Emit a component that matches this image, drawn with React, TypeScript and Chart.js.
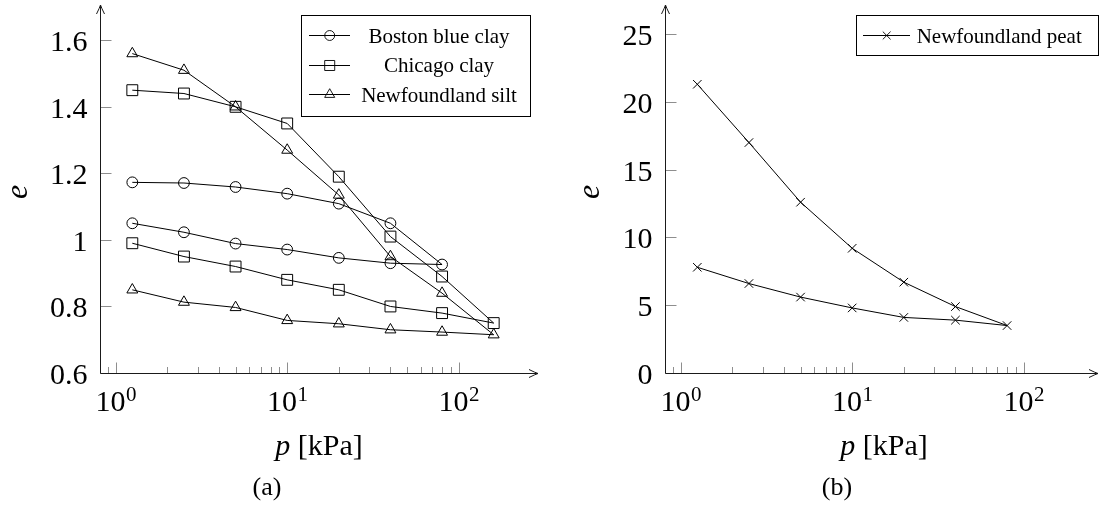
import React, { useEffect, useRef } from 'react';
import { Chart, registerables } from 'chart.js';
import { drawPoint } from 'chart.js/helpers';

Chart.register(...registerables);

// ---------------- data ----------------
const loadPressures = [1.25, 2.5, 5, 10, 20, 40, 80, 160]; // kPa
const bostonLoading = [1.173, 1.171, 1.159, 1.139, 1.109, 1.05, 0.926];
const bostonUnloading = [0.93, 0.946, 0.971, 0.989, 1.023, 1.05];
const chicagoLoading = [1.45, 1.44, 1.4, 1.35, 1.19, 1.01, 0.89, 0.75];
const chicagoUnloading = [0.78, 0.8, 0.85, 0.88, 0.92, 0.95, 0.99];
const siltLoading = [1.56, 1.51, 1.4, 1.27, 1.135, 0.95, 0.84, 0.715];
const siltUnloading = [0.723, 0.73, 0.748, 0.758, 0.797, 0.813, 0.85];
const peatLoading = [21.3, 17.0, 12.6, 9.2, 6.7, 4.9, 3.5];
const peatUnloading = [3.9, 4.1, 4.8, 5.6, 6.6, 7.8];

const leftSeriesNames = ['Boston blue clay', 'Chicago clay', 'Newfoundland silt'];
const rightSeriesNames = ['Newfoundland peat'];

const xMajorTicks = [1, 10, 100];
const xMajorExponents = ['0', '1', '2'];
const xMinorTicks = [0.9, 2, 3, 4, 5, 6, 7, 8, 9, 20, 30, 40, 50, 60, 70, 80, 90];
const leftYTicks = [0.6, 0.8, 1, 1.2, 1.4, 1.6];
const leftYTickLabels = ['0.6', '0.8', '1', '1.2', '1.4', '1.6'];
const rightYTicks = [0, 5, 10, 15, 20, 25];
const rightYTickLabels = ['0', '5', '10', '15', '20', '25'];

// loading path out, then unloading back
function cyclePath(loading: number[], unloading: number[]) {
  const pts = loading.map((e, i) => ({ x: loadPressures[i], y: e }));
  const n = loading.length;
  unloading.forEach((e, j) => pts.push({ x: loadPressures[n - 2 - j], y: e }));
  return pts;
}

const FONT = "'Liberation Serif', 'Times New Roman', serif";
const TICK_GRAY = '#8e8e8e';

const pgfPlugin = {
  id: 'pgf',
  beforeDatasetsDraw(chart: any, _args: any, o: any) {
    const { ctx, chartArea: a } = chart;
    const x = chart.scales.x;
    const y = chart.scales.y;
    const ax = Math.round(a.left) + 0.5;
    const ay = Math.round(a.bottom) + 0.5;
    ctx.save();
    // ticks (inward)
    ctx.strokeStyle = TICK_GRAY;
    ctx.lineWidth = 1;
    ctx.beginPath();
    for (const v of o.yTicks) {
      const py = Math.round(y.getPixelForValue(v)) + 0.5;
      ctx.moveTo(ax, py);
      ctx.lineTo(ax + 11, py);
    }
    for (const v of xMajorTicks) {
      const px = Math.round(x.getPixelForValue(v)) + 0.5;
      ctx.moveTo(px, ay);
      ctx.lineTo(px, ay - 11);
    }
    for (const v of xMinorTicks) {
      const px = Math.round(x.getPixelForValue(v)) + 0.5;
      ctx.moveTo(px, ay);
      ctx.lineTo(px, ay - 6.5);
    }
    ctx.stroke();

    // axis lines with arrows
    const xEnd = Math.min(a.left + o.axisLength, chart.width - 1);
    const yTop = a.top - 2;
    ctx.strokeStyle = '#1a1a1a';
    ctx.lineWidth = 1;
    ctx.beginPath();
    ctx.moveTo(ax, ay);
    ctx.lineTo(ax, yTop);
    ctx.moveTo(ax, ay);
    ctx.lineTo(xEnd, ay);
    // arrow heads
    ctx.moveTo(ax - 4, yTop + 9);
    ctx.quadraticCurveTo(ax - 1, yTop + 3, ax, yTop);
    ctx.quadraticCurveTo(ax + 1, yTop + 3, ax + 4, yTop + 9);
    ctx.moveTo(xEnd - 9, ay - 4);
    ctx.quadraticCurveTo(xEnd - 3, ay - 1, xEnd, ay);
    ctx.quadraticCurveTo(xEnd - 3, ay + 1, xEnd - 9, ay + 4);
    ctx.stroke();

    // tick labels
    ctx.fillStyle = '#000';
    ctx.font = `30px ${FONT}`;
    ctx.textAlign = 'right';
    ctx.textBaseline = 'alphabetic';
    o.yTicks.forEach((v: number, i: number) => {
      const py = y.getPixelForValue(v);
      ctx.fillText(o.yTickLabels[i], a.left - 12.5, py + 11);
    });
    xMajorTicks.forEach((v, i) => {
      const px = x.getPixelForValue(v);
      ctx.font = `30px ${FONT}`;
      const w1 = ctx.measureText('10').width;
      ctx.font = `21px ${FONT}`;
      const w2 = ctx.measureText(xMajorExponents[i]).width;
      const start = px - (w1 + w2) / 2;
      ctx.textAlign = 'left';
      ctx.font = `30px ${FONT}`;
      ctx.fillText('10', start, a.bottom + 38);
      ctx.font = `21px ${FONT}`;
      ctx.fillText(xMajorExponents[i], start + w1 + 0.5, a.bottom + 27.5);
    });

    // x axis label: italic p + [kPa]
    ctx.font = `italic 30px ${FONT}`;
    const wp = ctx.measureText('p').width;
    ctx.font = `30px ${FONT}`;
    const wr = ctx.measureText(' [kPa]').width;
    const cx = a.left + o.axisLength / 2;
    const st = cx - (wp + wr) / 2;
    ctx.textAlign = 'left';
    ctx.font = `italic 30px ${FONT}`;
    ctx.fillText('p', st, a.bottom + 82);
    ctx.font = `30px ${FONT}`;
    ctx.fillText(' [kPa]', st + wp, a.bottom + 82);

    // y axis label
    ctx.save();
    ctx.translate(o.yLabelX, (a.top + a.bottom) / 2 + 2);
    ctx.rotate(-Math.PI / 2);
    ctx.font = `italic 32px ${FONT}`;
    ctx.textAlign = 'center';
    ctx.fillText('e', 0, 0);
    ctx.restore();

    // caption
    ctx.font = `26px ${FONT}`;
    ctx.textAlign = 'center';
    ctx.fillText(o.caption, o.captionX, 495);
    ctx.restore();
  },
  afterDatasetsDraw(chart: any, _args: any, o: any) {
    const { ctx } = chart;
    const lg = o.legend;
    ctx.save();
    ctx.fillStyle = '#fff';
    ctx.fillRect(lg.box[0], lg.box[1], lg.box[2] - lg.box[0], lg.box[3] - lg.box[1]);
    ctx.strokeStyle = '#000';
    ctx.lineWidth = 1;
    ctx.strokeRect(lg.box[0] + 0.5, lg.box[1] + 0.5, lg.box[2] - lg.box[0], lg.box[3] - lg.box[1]);
    const items = chart.data.datasets.filter((d: any) => !d.hideInLegend);
    items.forEach((d: any, i: number) => {
      const ry = lg.rows[i];
      ctx.strokeStyle = '#000';
      ctx.lineWidth = 1;
      ctx.beginPath();
      ctx.moveTo(lg.line[0], Math.round(ry) + 0.5);
      ctx.lineTo(lg.line[1], Math.round(ry) + 0.5);
      ctx.stroke();
      ctx.fillStyle = 'rgba(0,0,0,0)';
      ctx.lineWidth = 0.9;
      drawPoint(ctx, { pointStyle: d.pointStyle, radius: d.pointRadius * 0.92, rotation: 0, borderWidth: 0.9 } as any, lg.marker, Math.round(ry) + 0.5);
      ctx.fillStyle = '#000';
      ctx.font = `21px ${FONT}`;
      ctx.textAlign = lg.textAlign;
      ctx.textBaseline = 'alphabetic';
      ctx.fillText(d.label, lg.textX, ry + 7.5);
    });
    ctx.restore();
  },
};

function ds(label: string, data: any[], pointStyle: string, pointRadius: number) {
  return {
    label,
    data,
    borderColor: '#000',
    borderWidth: 1,
    pointStyle,
    pointRadius,
    pointBorderWidth: 1,
    pointBorderColor: '#000',
    pointBackgroundColor: 'rgba(0,0,0,0)',
    fill: false,
    tension: 0,
  };
}

const DECADE = 171.5; // px per decade
const X_MIN_LOG = -0.0915;

function baseOptions(padLeft: number, padRight: number, plotWidth: number, yMin: number, yMax: number, pgf: any) {
  return {
    animation: false,
    responsive: false,
    maintainAspectRatio: false,
    layout: { autoPadding: false, padding: { left: padLeft, right: padRight, top: 7, bottom: 141 } },
    scales: {
      x: { type: 'logarithmic', min: Math.pow(10, X_MIN_LOG), max: Math.pow(10, X_MIN_LOG + plotWidth / DECADE), display: false },
      y: { type: 'linear', min: yMin, max: yMax, display: false },
    },
    plugins: { legend: { display: false }, tooltip: { enabled: false }, pgf },
    events: [],
  };
}

function leftConfig(): any {
  return {
    type: 'line',
    data: {
      datasets: [
        ds(leftSeriesNames[0], cyclePath(bostonLoading, bostonUnloading), 'circle', 5.4),
        ds(leftSeriesNames[1], cyclePath(chicagoLoading, chicagoUnloading), 'rect', 7.7),
        ds(leftSeriesNames[2], cyclePath(siltLoading, siltUnloading), 'triangle', 6.3),
      ],
    },
    options: baseOptions(100, 12, 438, 0.6, 1.7, {
      yTicks: leftYTicks,
      yTickLabels: leftYTickLabels,
      axisLength: 438,
      yLabelX: 26.5,
      caption: '(a)',
      captionX: 267,
      legend: {
        box: [301, 15, 530, 116],
        rows: [35, 64.5, 94],
        line: [309, 350],
        marker: 329.7,
        textX: 439,
        textAlign: 'center',
      },
    }),
    plugins: [pgfPlugin],
  };
}

function rightConfig(): any {
  return {
    type: 'line',
    data: {
      datasets: [ds(rightSeriesNames[0], cyclePath(peatLoading, peatUnloading), 'crossRot', 6)],
    },
    options: baseOptions(115, 0, 434, 0, 27, {
      yTicks: rightYTicks,
      yTickLabels: rightYTickLabels,
      axisLength: 438,
      yLabelX: 49,
      caption: '(b)',
      captionX: 287,
      legend: {
        box: [306, 15, 548, 55],
        rows: [35],
        line: [313, 360],
        marker: 336.7,
        textX: 366.7,
        textAlign: 'left',
      },
    }),
    plugins: [pgfPlugin],
  };
}

function Panel({ left, width, make }: { left: number; width: number; make: () => any }) {
  const ref = useRef<HTMLCanvasElement>(null);
  useEffect(() => {
    const chart = new Chart(ref.current as HTMLCanvasElement, make());
    return () => chart.destroy();
  }, []);
  return (
    <canvas
      ref={ref}
      width={width}
      height={514}
      style={{ position: 'absolute', left, top: 0, width, height: 514, display: 'block' }}
    />
  );
}

export default function App() {
  return (
    <div style={{ position: 'absolute', left: 0, top: 0, width: 1099, height: 514, background: '#fff', overflow: 'hidden' }}>
      <Panel left={0} width={550} make={leftConfig} />
      <Panel left={550} width={549} make={rightConfig} />
    </div>
  );
}
